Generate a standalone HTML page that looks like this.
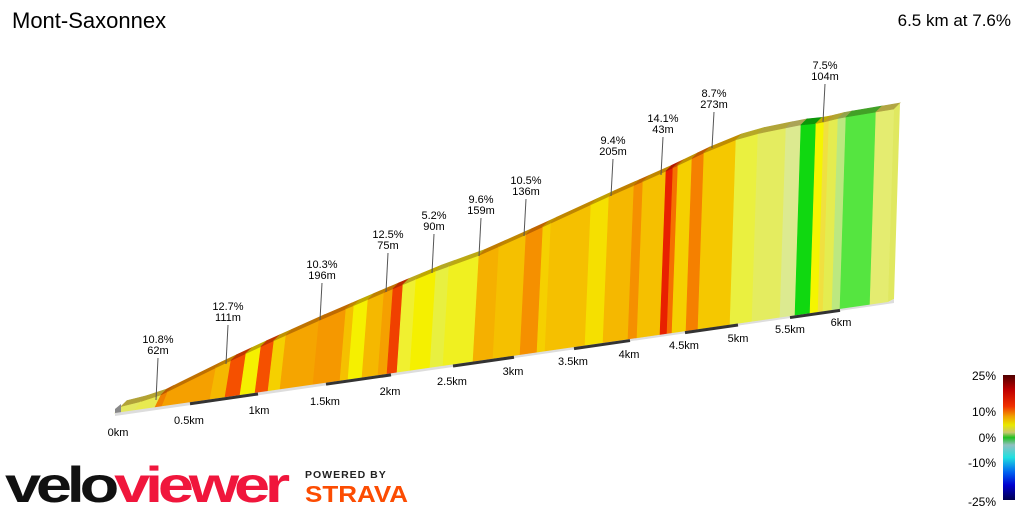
<!DOCTYPE html>
<html><head><meta charset="utf-8"><style>
body{margin:0;background:#fff;width:1024px;height:512px;overflow:hidden;font-family:"Liberation Sans",sans-serif}
svg{position:absolute;left:0;top:0}
</style></head><body>
<svg id="s" width="1024" height="512" xmlns="http://www.w3.org/2000/svg">
<defs><linearGradient id="lg" x1="0" y1="0" x2="0" y2="1">
<stop offset="0" stop-color="#500000"/><stop offset="0.12" stop-color="#c00000"/><stop offset="0.25" stop-color="#f03000"/><stop offset="0.33" stop-color="#f0a000"/><stop offset="0.4" stop-color="#e8e800"/><stop offset="0.46" stop-color="#c8c870"/><stop offset="0.5" stop-color="#20c020"/><stop offset="0.56" stop-color="#90c0c0"/><stop offset="0.66" stop-color="#20e0e0"/><stop offset="0.78" stop-color="#0060f0"/><stop offset="0.88" stop-color="#0000d0"/><stop offset="1" stop-color="#000050"/></linearGradient></defs>
<text x="12" y="28" font-size="22" fill="#000">Mont-Saxonnex</text>
<text x="1011" y="26" font-size="17" text-anchor="end" fill="#000">6.5 km at 7.6%</text>
<g id="g"></g>
<rect x="1003" y="375" width="12" height="125" fill="url(#lg)"/>
<g font-size="12" text-anchor="end" fill="#000"><text x="996" y="380">25%</text><text x="996" y="416">10%</text><text x="996" y="442">0%</text><text x="996" y="467">-10%</text><text x="996" y="506">-25%</text></g>
<text x="5" y="502" font-size="50" font-weight="bold" letter-spacing="-4" fill="#111" textLength="280" lengthAdjust="spacingAndGlyphs">velo<tspan fill="#f0163c">viewer</tspan></text>
<text x="305" y="478" font-size="10.5" font-weight="bold" letter-spacing="1" fill="#222">POWERED BY</text>
<text x="305" y="502" font-size="23" font-weight="bold" fill="#fc4c02" textLength="103" lengthAdjust="spacingAndGlyphs">STRAVA</text>
</svg>
<script>
var pts=[[115,408],[155,398],[190,380],[232,360],[262,346],[320,320],[390,290],[433,272],[480,255],[525,235],[612,195],[660,174],[712,149],[735,140],[760,133],[800,125],[820,123],[840,118],[900,108]];
function ty(x){for(var i=0;i<pts.length-1;i++){var a=pts[i],b=pts[i+1];if(x<=b[0]){return a[1]+(b[1]-a[1])*(x-a[0])/(b[0]-a[0]);}}return 108;}
function by(x){return 413-111*(x-115)/773;}
var bands=[[115,135,"#e4e860"],[135,155,"#e8ea50"],[155,162,"#f08000"],[162,210,"#f5a000"],[210,225,"#f5b800"],[225,240,"#f55000"],[240,255,"#f5f000"],[255,268,"#f55000"],[268,280,"#f5d000"],[280,313,"#f5a500"],[313,340,"#f59800"],[340,348,"#f5c000"],[348,362,"#f5f000"],[362,378,"#f5b800"],[378,387,"#f5a000"],[387,397,"#f04000"],[397,410,"#f0f030"],[410,430,"#f5f000"],[430,443,"#e8f040"],[443,473,"#f0f020"],[473,493,"#f5b000"],[493,520,"#f5c000"],[520,537,"#f59000"],[537,545,"#f5d000"],[545,585,"#f5c000"],[585,603,"#f5e000"],[603,628,"#f5b800"],[628,637,"#f59000"],[637,660,"#f5c000"],[660,667,"#e82000"],[667,672,"#f57000"],[672,686,"#f5d000"],[686,698,"#f58000"],[698,730,"#f5c800"],[730,752,"#eaf040"],[752,780,"#e4ec60"],[780,795,"#dcea90"],[795,810,"#10d810"],[810,818,"#f5f500"],[818,823,"#f0e040"],[823,832,"#e4ec50"],[832,840,"#bce880"],[840,870,"#55e540"],[870,888,"#e4ec70"]];
function dk(c){var n=parseInt(c.slice(1),16),r=(n>>16)*.78|0,g=((n>>8)&255)*.7|0,b=(n&255)*.6|0;return "rgb("+r+","+g+","+b+")";}
var h="",S=6;
bands.forEach(function(b){var x1=b[0],x2=b[1];
h+='<polygon points="'+x1+','+by(x1)+' '+x2+','+by(x2)+' '+(x2+S)+','+ty(x2+S)+' '+(x1+S)+','+ty(x1+S)+'" fill="'+b[2]+'" stroke="'+b[2]+'" stroke-width="0.6"/>';
h+='<polygon points="'+(x1+S)+','+ty(x1+S)+' '+(x2+S)+','+ty(x2+S)+' '+(x2+S+6)+','+(ty(x2+S)-6)+' '+(x1+S+6)+','+(ty(x1+S)-6)+'" fill="'+dk(b[2])+'" stroke="'+dk(b[2])+'" stroke-width="0.6"/>';});
h+='<polygon points="888,302 894,'+ty(894)+' 900,'+(ty(894)-6)+' 894,299" fill="#e0e860"/>';
h+='<polygon points="115,409 121,404 121,414 115,413" fill="#888"/>';
h+='<polygon points="115,413 888,302 894,299 894,303 115,416" fill="#ddd"/>';
var km=[115,190,258,326,391,453,514,574,630,685,738,790,840,888];
for(var i=1;i<13;i+=2){h+='<line x1="'+km[i]+'" y1="'+(by(km[i])+1.5)+'" x2="'+km[i+1]+'" y2="'+(by(km[i+1])+1.5)+'" stroke="#333" stroke-width="3"/>';}
var tl=[["0km",118,436],["0.5km",189,424],["1km",259,414],["1.5km",325,405],["2km",390,395],["2.5km",452,385],["3km",513,375],["3.5km",573,365],["4km",629,358],["4.5km",684,349],["5km",738,342],["5.5km",790,333],["6km",841,326]];
tl.forEach(function(t){h+='<text x="'+t[1]+'" y="'+t[2]+'" font-size="11" text-anchor="middle">'+t[0]+'</text>';});
var an=[[158,"10.8%","62m",343,400],[228,"12.7%","111m",310,364],[322,"10.3%","196m",268,320],[388,"12.5%","75m",238,292],[434,"5.2%","90m",219,273],[481,"9.6%","159m",203,256],[526,"10.5%","136m",184,236],[613,"9.4%","205m",144,196],[663,"14.1%","43m",122,175],[714,"8.7%","273m",97,148],[825,"7.5%","104m",69,122]];
an.forEach(function(a){h+='<line x1="'+a[0]+'" y1="'+(a[3]+15)+'" x2="'+(a[0]-2)+'" y2="'+a[4]+'" stroke="#555" stroke-width="1"/><text x="'+a[0]+'" y="'+a[3]+'" font-size="11" text-anchor="middle">'+a[1]+'</text><text x="'+a[0]+'" y="'+(a[3]+11)+'" font-size="11" text-anchor="middle">'+a[2]+'</text>';});
document.getElementById("g").innerHTML=h;
</script>
</body></html>
